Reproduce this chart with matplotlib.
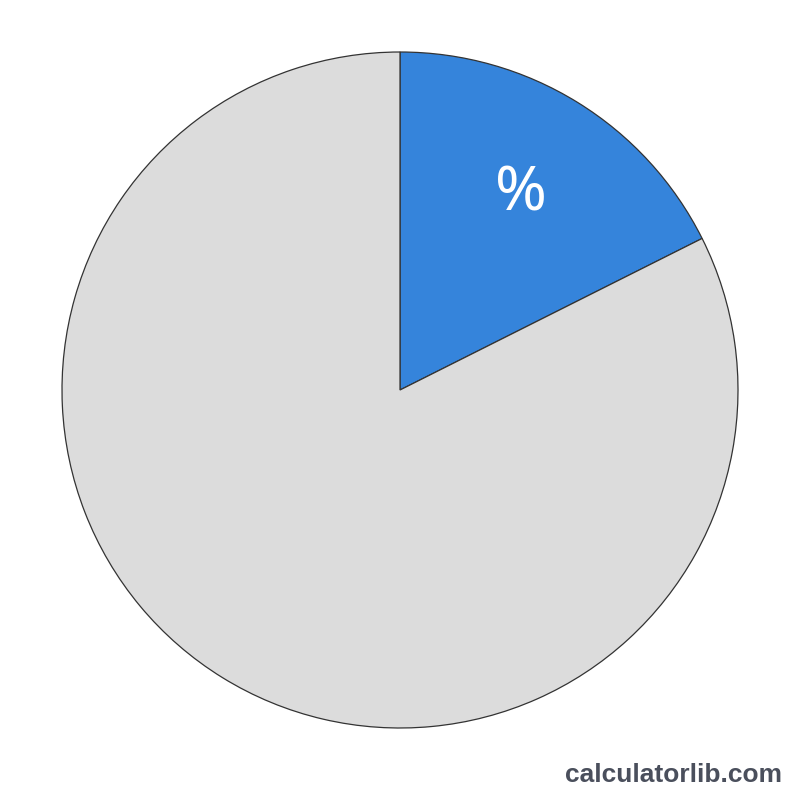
import matplotlib
matplotlib.use('Agg')
import matplotlib.pyplot as plt

# slice values (percent)
labels = ['%', '']
values = [17.6, 82.4]
colors = ['#3584db', '#dcdcdc']

fig = plt.figure(figsize=(8, 8), dpi=100)
ax = fig.add_axes([62 / 800, 72 / 800, 676 / 800, 676 / 800])

wedges, texts, autotexts = ax.pie(
    values, colors=colors, startangle=90, counterclock=False, radius=1,
    autopct=lambda p: '%' if p < 50 else '', pctdistance=0.68,
    wedgeprops={'edgecolor': '#333333', 'linewidth': 0.9},
    textprops={'color': 'white', 'fontsize': 45, 'family': 'Noto Sans'})
ax.set_xlim(-1.0, 1.0)
ax.set_ylim(-1.0, 1.0)
ax.set_aspect('equal')
ax.axis('off')

fig.text(782 / 800, 1 - 782 / 800, 'calculatorlib.com', ha='right', va='baseline',
         fontsize=19, fontweight='bold', family='Liberation Sans', color='#4a4f5c')

fig.savefig('out.png', dpi=100, facecolor='white')
